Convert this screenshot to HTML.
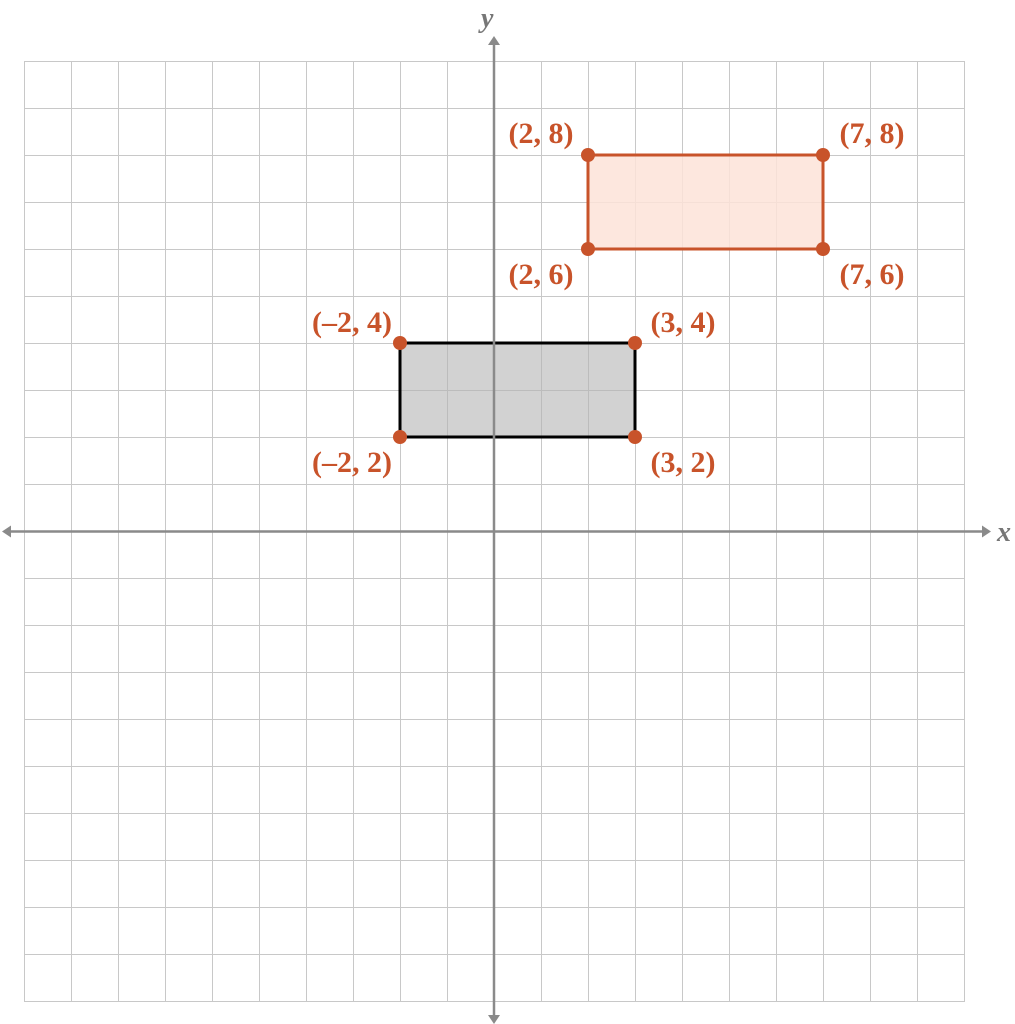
<!DOCTYPE html>
<html><head><style>html,body{margin:0;padding:0;background:#fff}svg{display:block}</style></head><body>
<svg width="1015" height="1024" viewBox="0 0 1015 1024" xmlns="http://www.w3.org/2000/svg">
<g stroke="#c8c8c8" stroke-width="1">
<path d="M24 61.5H964M24 108.5H964M24 155.5H964M24 202.5H964M24 249.5H964M24 296.5H964M24 343.5H964M24 390.5H964M24 437.5H964M24 484.5H964M24 578.5H964M24 625.5H964M24 672.5H964M24 719.5H964M24 766.5H964M24 813.5H964M24 860.5H964M24 907.5H964M24 954.5H964M24 1001.5H964"/>
<path d="M24.5 61V1002M71.5 61V1002M118.5 61V1002M165.5 61V1002M212.5 61V1002M259.5 61V1002M306.5 61V1002M353.5 61V1002M400.5 61V1002M447.5 61V1002M541.5 61V1002M588.5 61V1002M635.5 61V1002M682.5 61V1002M729.5 61V1002M776.5 61V1002M823.5 61V1002M870.5 61V1002M917.5 61V1002M964.5 61V1002"/>
</g>
<rect x="588" y="155" width="235" height="94" fill="#fde3d8" fill-opacity="0.85" stroke="#c8532a" stroke-width="3"/>
<rect x="400" y="343" width="235" height="94" fill="#b4b4b4" fill-opacity="0.6" stroke="#000" stroke-width="3"/>
<g stroke="#8a8a8a" stroke-width="2.5">
<path d="M494 44V1016"/><path d="M10 531.5H984"/>
</g>
<g fill="#8a8a8a">
<path d="M494 36L488 45H500Z"/><path d="M494 1024L488 1015H500Z"/>
<path d="M2 531.5L11 525.5V537.5Z"/><path d="M991 531.5L982 525.5V537.5Z"/>
</g>
<g font-family="Liberation Serif,serif" font-style="italic" font-weight="bold" font-size="28" fill="#777">
<text x="481" y="27">y</text><text x="997" y="541">x</text>
</g>
<g fill="#c8532a">
<circle cx="588" cy="155" r="7"/><circle cx="823" cy="155" r="7"/><circle cx="588" cy="249" r="7"/><circle cx="823" cy="249" r="7"/>
<circle cx="400" cy="343" r="7"/><circle cx="635" cy="343" r="7"/><circle cx="400" cy="437" r="7"/><circle cx="635" cy="437" r="7"/>
</g>
<g font-family="Liberation Serif,serif" font-weight="bold" font-size="30" fill="#c8532a" text-anchor="middle">
<text x="541" y="143">(2, 8)</text><text x="872" y="143">(7, 8)</text>
<text x="541" y="284">(2, 6)</text><text x="872" y="284">(7, 6)</text>
<text x="352" y="332">(–2, 4)</text><text x="683" y="332">(3, 4)</text>
<text x="352" y="472">(–2, 2)</text><text x="683" y="472">(3, 2)</text>
</g>
</svg>
</body></html>
